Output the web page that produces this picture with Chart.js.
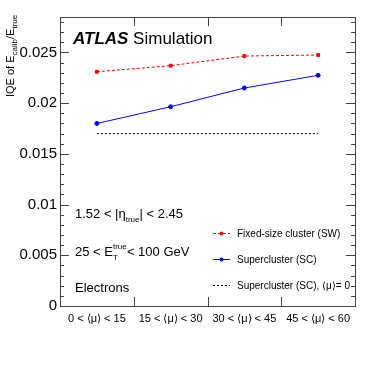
<!DOCTYPE html>
<html>
<head>
<meta charset="UTF-8">
<title>IQE vs pile-up</title>
<style>
  body { margin: 0; background: #fff; }
  #wrap { width: 374px; height: 365px; }
</style>
</head>
<body>
<div id="wrap"><canvas id="c" width="374" height="365"></canvas></div>
<script src="https://cdn.jsdelivr.net/npm/chart.js"></script>
<script>
// data
const categories = ['0 < \u27E8\u03BC\u27E9 < 15', '15 < \u27E8\u03BC\u27E9 < 30', '30 < \u27E8\u03BC\u27E9 < 45', '45 < \u27E8\u03BC\u27E9 < 60'];
const swValues = [0.02310, 0.02370, 0.02465, 0.02475];
const scValues = [0.01800, 0.01965, 0.02150, 0.02275];
const scMu0Values = [0.0170, 0.0170, 0.0170, 0.0170];
const yTickValues = [0, 0.005, 0.01, 0.015, 0.02, 0.025];
const yTickLabels = ['0', '0.005', '0.01', '0.015', '0.02', '0.025'];
const legendLabels = ['Fixed-size cluster (SW)', 'Supercluster (SC)', 'Supercluster (SC), \u27E8\u03BC\u27E9= 0'];

const FONT = '"Liberation Sans", Arial, Helvetica, sans-serif';

// ROOT-style frame, inner ticks, text and legend
const atlasPlugin = {
    id: 'atlas',
    afterDraw(chart) {
        const ctx = chart.ctx;
        const a = chart.chartArea;
        const y = chart.scales.y;
        const x = chart.scales.x;
        ctx.save();
        ctx.strokeStyle = '#444';
        ctx.lineWidth = 1;
        ctx.strokeRect(a.left + 0.5, a.top + 0.5, a.right - a.left, a.bottom - a.top);

        // y ticks (major + minor) on both sides
        for (let v = 0; v <= 0.0285; v += 0.001) {
            const py = Math.round(y.getPixelForValue(v)) + 0.5;
            const major = Math.abs(v / 0.005 - Math.round(v / 0.005)) < 1e-6;
            const len = major ? 9 : 4;
            ctx.beginPath();
            ctx.moveTo(a.left, py); ctx.lineTo(a.left + len, py);
            ctx.moveTo(a.right, py); ctx.lineTo(a.right - len, py);
            ctx.stroke();
        }
        // x ticks at category boundaries
        for (let i = 1; i < categories.length; i++) {
            const px = Math.round((x.getPixelForValue(i - 1) + x.getPixelForValue(i)) / 2) + 0.5;
            ctx.beginPath();
            ctx.moveTo(px, a.bottom); ctx.lineTo(px, a.bottom - 9);
            ctx.moveTo(px, a.top); ctx.lineTo(px, a.top + 9);
            ctx.stroke();
        }

        ctx.fillStyle = '#000';
        ctx.textBaseline = 'alphabetic';
        ctx.textAlign = 'left';
        // ATLAS Simulation
        ctx.font = 'italic bold 17px ' + FONT;
        ctx.fillText('ATLAS', 73, 44);
        const w = ctx.measureText('ATLAS ').width;
        ctx.font = '17px ' + FONT;
        ctx.fillText('Simulation', 73 + w, 44);

        // labels
        function parts(list, x0, y0) {
            let cx = x0;
            list.forEach(p => {
                ctx.font = (p.s ? p.s : 13) + 'px ' + FONT;
                ctx.fillText(p.t, cx, y0 + (p.dy || 0));
                cx += ctx.measureText(p.t).width + (p.gap || 0);
            });
        }
        parts([{ t: '1.52 < |\u03B7' }, { t: 'true', s: 8, dy: 4 }, { t: '| < 2.45' }], 75, 218);
        ctx.font = '13px ' + FONT;
        const eW = ctx.measureText('25 < E').width;
        ctx.fillText('25 < E', 75, 256);
        ctx.font = '8px ' + FONT;
        ctx.fillText('T', 75 + eW, 260);
        ctx.fillText('true', 75 + eW, 249);
        ctx.font = '13px ' + FONT;
        ctx.fillText('< 100 GeV', 75 + eW + ctx.measureText('tr').width + 6, 256);
        ctx.fillText('Electrons', 75, 292);

        // y title (rotated)
        ctx.save();
        ctx.translate(14, 97);
        ctx.rotate(-Math.PI / 2);
        parts([{ t: 'IQE of E', s: 11 }, { t: 'calib', s: 8, dy: 3 }, { t: '/E', s: 11 }, { t: 'true', s: 8, dy: 3 }], 0, 0);
        ctx.restore();

        // legend
        const ds = chart.data.datasets;
        const ly = [233, 259, 285];
        ds.forEach((d, i) => {
            ctx.strokeStyle = d.borderColor;
            ctx.lineWidth = 1;
            ctx.setLineDash(d.borderDash || []);
            ctx.beginPath();
            ctx.moveTo(213, ly[i] + 0.5); ctx.lineTo(230, ly[i] + 0.5);
            ctx.stroke();
            ctx.setLineDash([]);
            if (d.pointRadius > 0) {
                ctx.fillStyle = d.borderColor;
                ctx.beginPath();
                ctx.arc(221.5, ly[i] + 0.5, 2, 0, Math.PI * 2);
                ctx.fill();
            }
            ctx.fillStyle = '#000';
            ctx.font = '10px ' + FONT;
            ctx.textBaseline = 'middle';
            ctx.fillText(legendLabels[i], 237, ly[i] + 1);
        });
        ctx.restore();
    }
};

new Chart(document.getElementById('c'), {
    type: 'line',
    data: {
        labels: categories,
        datasets: [{
            label: legendLabels[0],
            data: swValues,
            borderColor: '#ff0000',
            backgroundColor: '#ff0000',
            borderWidth: 1,
            borderDash: [3, 2],
            pointRadius: 2,
            pointStyle: 'rect'
        }, {
            label: legendLabels[1],
            data: scValues,
            borderColor: '#0000ff',
            backgroundColor: '#0000ff',
            borderWidth: 1,
            pointRadius: 2,
            pointStyle: 'circle'
        }, {
            label: legendLabels[2],
            data: scMu0Values,
            borderColor: '#000000',
            borderWidth: 1,
            borderDash: [2, 2],
            pointRadius: 0
        }]
    },
    options: {
        responsive: false,
        animation: false,
        layout: { padding: { top: 17, right: 19, left: 0, bottom: 0 } },
        plugins: { legend: { display: false }, tooltip: { enabled: false } },
        scales: {
            x: {
                offset: true,
                grid: { display: false, drawTicks: false },
                border: { display: false },
                ticks: { color: '#000', font: { family: FONT, size: 11 }, padding: 6, maxRotation: 0, autoSkip: false },
                afterFit(s) { s.height = 59; }
            },
            y: {
                min: 0,
                max: 0.0285,
                grid: { display: false, drawTicks: false },
                border: { display: false },
                afterBuildTicks(s) { s.ticks = yTickValues.map(v => ({ value: v })); },
                ticks: {
                    color: '#000',
                    font: { family: FONT, size: 15 },
                    padding: 3,
                    callback: (v, i) => yTickLabels[i]
                },
                afterFit(s) { s.width = 60; }
            }
        }
    },
    plugins: [atlasPlugin]
});
</script>
</body>
</html>
